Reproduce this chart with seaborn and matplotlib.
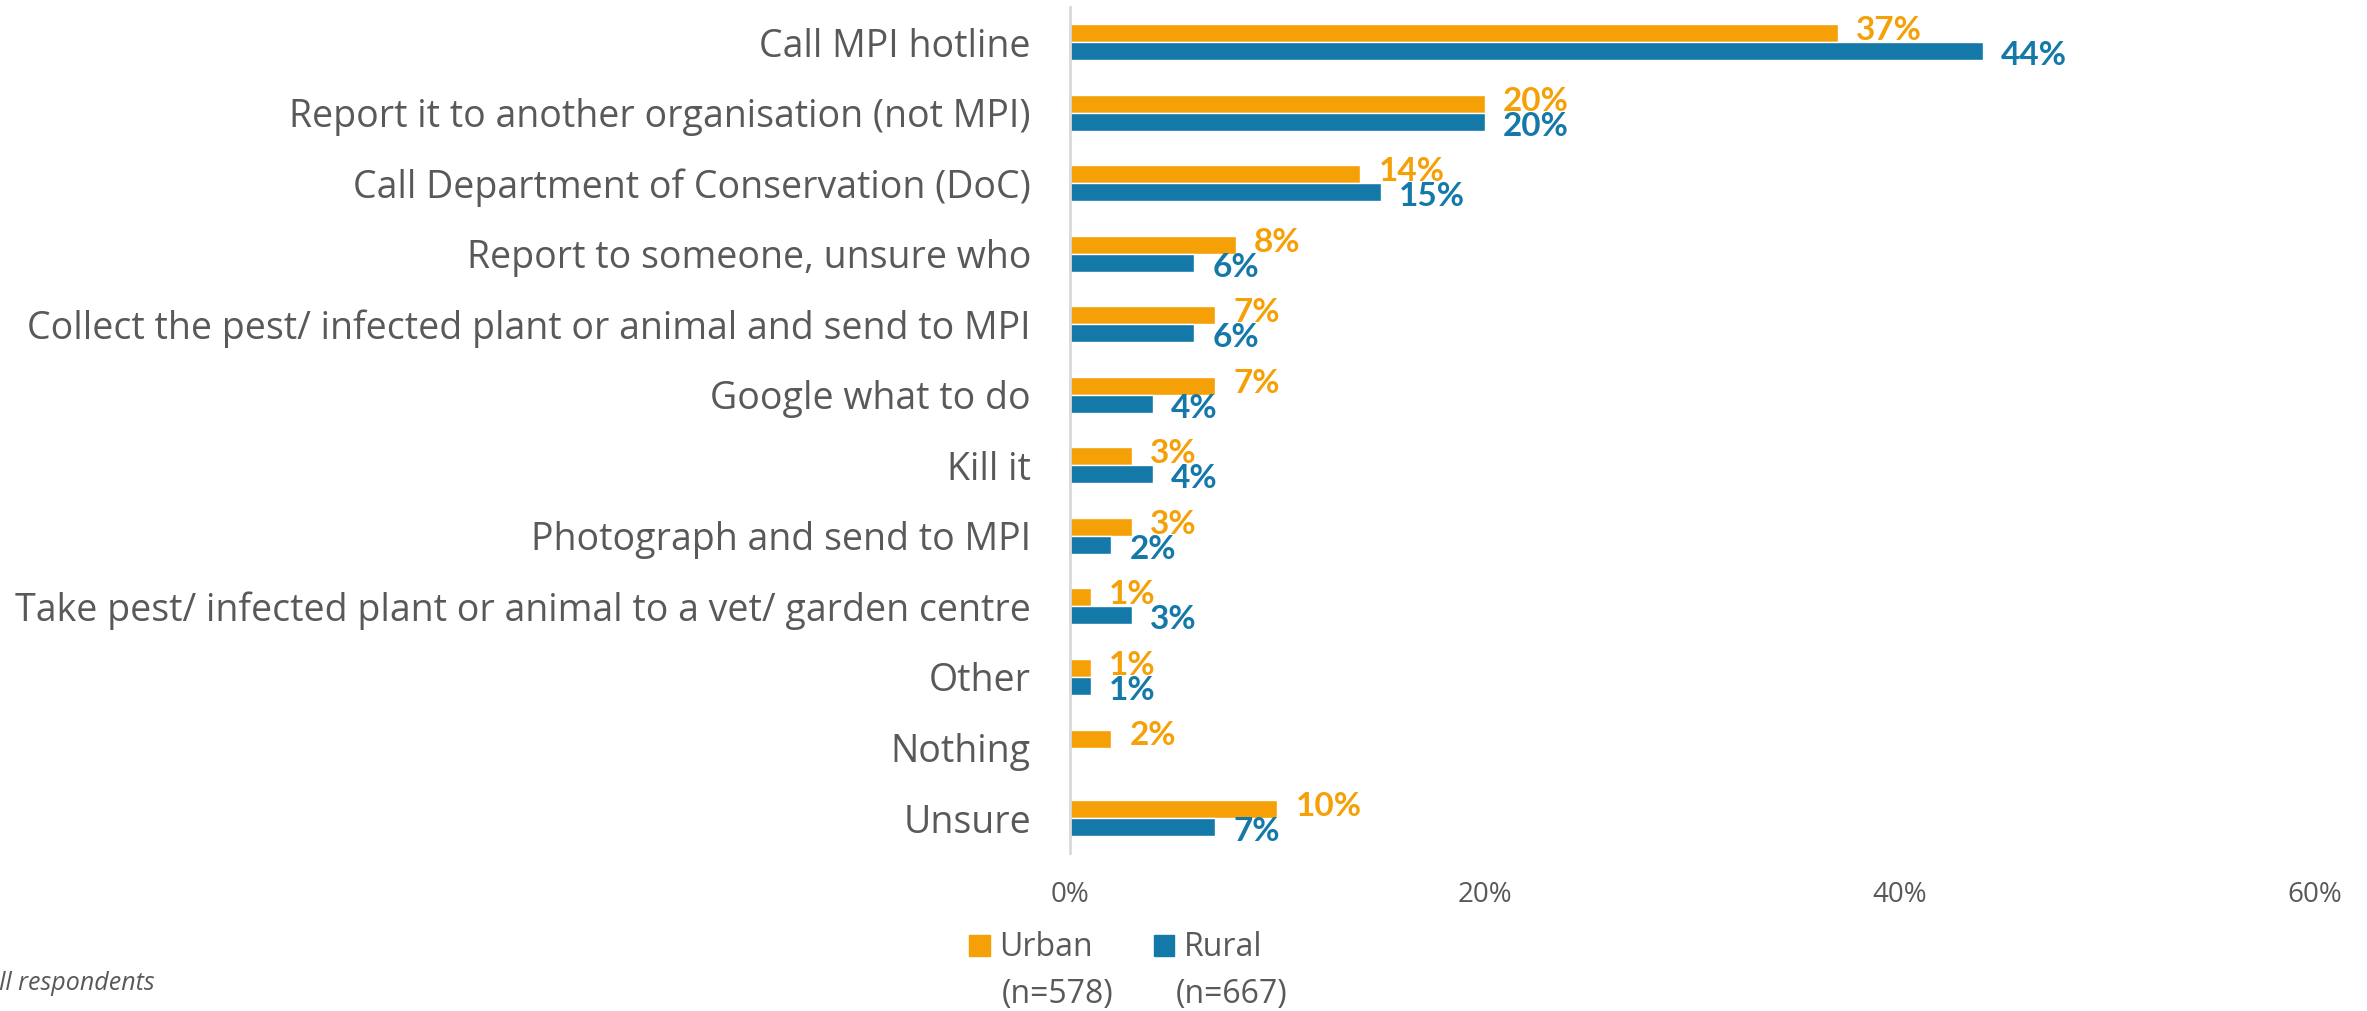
import pandas as pd
import matplotlib.pyplot as plt
import seaborn as sns
from matplotlib.patches import Patch

# Chart data
categories = [
    "Call MPI hotline",
    "Report it to another organisation (not MPI)",
    "Call Department of Conservation (DoC)",
    "Report to someone, unsure who",
    "Collect the pest/ infected plant or animal and send to MPI",
    "Google what to do",
    "Kill it",
    "Photograph and send to MPI",
    "Take pest/ infected plant or animal to a vet/ garden centre",
    "Other",
    "Nothing",
    "Unsure",
]
urban = [37, 20, 14, 8, 7, 7, 3, 3, 1, 1, 2, 10]
rural = [44, 20, 15, 6, 6, 4, 4, 2, 3, 1, 0, 7]
groups = ["Urban", "Rural"]
group_n = ["(n=578)", "(n=667)"]
x_ticks = [0, 20, 40, 60]

orange = "#F5A006"
blue = "#1479A8"
grey = "#595959"

df = pd.DataFrame({
    "category": categories * 2,
    "group": [groups[0]] * len(categories) + [groups[1]] * len(categories),
    "value": urban + rural,
})

sns.set_style("white")
plt.rcParams["font.family"] = ["Open Sans", "DejaVu Sans"]

fig = plt.figure(figsize=(23.67, 10.11), dpi=100)
ax = fig.add_axes([0.452, 0.156, 0.526, 0.837])

sns.barplot(data=df, y="category", x="value", hue="group", orient="h",
            palette=[orange, blue], width=0.51, saturation=1,
            order=categories, hue_order=groups, ax=ax, legend=False)

# data labels (skip the empty Rural "Nothing" bar)
for cont, col, dy in zip(ax.containers, [orange, blue], [2, -3]):
    labels = [f"{v:.0f}%" if v > 0 else "" for v in cont.datavalues]
    txts = ax.bar_label(cont, labels=labels, padding=13, color=col,
                        fontsize=24, fontweight="bold", family="Lato")
    for t in txts:
        x0, y0 = t.xyann
        t.xyann = (x0, y0 + dy)

ax.set_xlim(0, 60)
ax.set_xticks(x_ticks)
ax.set_xticklabels([f"{t}%" for t in x_ticks])
ax.set_xlabel("")
ax.set_ylabel("")
ax.tick_params(axis="x", length=0, pad=20, labelsize=20, colors=grey)
ax.tick_params(axis="y", length=0, pad=28, labelsize=27, colors=grey)
for s in ["top", "right", "bottom"]:
    ax.spines[s].set_visible(False)
ax.spines["left"].set_color("#D9D9D9")
ax.spines["left"].set_linewidth(2)

# legend with sample sizes underneath
handles = [Patch(color=orange), Patch(color=blue)]
leg = fig.legend(handles, groups, loc="center left",
                 bbox_to_anchor=(953 / 2367, 1 - 948 / 1011),
                 ncol=2, frameon=False, fontsize=23, borderpad=0,
                 handlelength=0.65, handleheight=0.65,
                 handletextpad=0.3, columnspacing=1.9)
for t in leg.get_texts():
    t.set_color(grey)
for xpix, n in zip([1002, 1176], group_n):
    fig.text(xpix / 2367, 1 - 994 / 1011, n, ha="left", va="center",
             fontsize=23, color=grey)

fig.text(155 / 2367, 1 - 983 / 1011, "Base: All respondents", ha="right", va="center",
         fontsize=18, style="italic", color=grey)

fig.savefig("out.png", dpi=100)
